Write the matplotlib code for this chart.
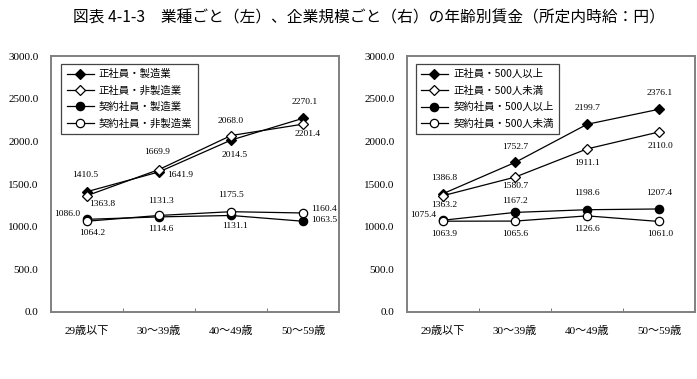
import matplotlib.pyplot as plt
import numpy as np

plt.rcParams['font.family'] = ['Liberation Serif', 'Noto Sans CJK JP']

ages = ['29歳以下', '30～39歳', '40～49歳', '50～59歳']

# 左：業種ごと
sei_mfg = [1410.5, 1641.9, 2014.5, 2270.1]
sei_nonmfg = [1363.8, 1669.9, 2068.0, 2201.4]
kei_mfg = [1086.0, 1114.6, 1131.1, 1063.5]
kei_nonmfg = [1064.2, 1131.3, 1175.5, 1160.4]
left_names = ['正社員・製造業', '正社員・非製造業', '契約社員・製造業', '契約社員・非製造業']

# 右：企業規模ごと
sei_large = [1386.8, 1752.7, 2199.7, 2376.1]
sei_small = [1363.2, 1580.7, 1911.1, 2110.0]
kei_large = [1075.4, 1167.2, 1198.6, 1207.4]
kei_small = [1063.9, 1065.6, 1126.6, 1061.0]
right_names = ['正社員・500人以上', '正社員・500人未満', '契約社員・500人以上', '契約社員・500人未満']

styles = [dict(marker='D', mfc='black', ms=5),
          dict(marker='D', mfc='white', ms=5),
          dict(marker='o', mfc='black', ms=6),
          dict(marker='o', mfc='white', ms=6)]

# label offsets in pixels (dx, dy)
left_off = [[(-2, 17), (21, -3), (4, -15), (2, 16)],
            [(15, -8), (-2, 18), (0, 15), (5, -10)],
            [(-20, 5), (2, -12), (4, -11), (21, 1)],
            [(5, -12), (2, 14), (0, 17), (21, 4)]]
right_off = [[(1, 16), (0, 15), (0, 16), (1, 16)],
             [(1, -9), (0, -9), (0, -14), (1, -14)],
             [(-20, 5), (0, 11), (0, 17), (0, 16)],
             [(1, -13), (0, -13), (0, -13), (1, -13)]]

fig = plt.figure(figsize=(6.97, 3.79), dpi=100)
fig.text(0.53, 0.952, '図表 4-1-3　業種ごと（左）、企業規模ごと（右）の年齢別賃金（所定内時給：円）',
         ha='center', va='center', fontsize=11.3, family=['Noto Sans CJK JP'])


def draw(ax, series, names, offs, lx, ly):
    x = np.arange(len(ages))
    for s, name, st, off in zip(series, names, styles, offs):
        ax.plot(x, s, color='black', lw=0.9, mec='black', mew=0.9, label=name, **st)
        for xi, v, (dx, dy) in zip(x, s, off):
            ax.annotate(f'{v:.1f}', (xi, v), xytext=(dx, dy), textcoords='offset pixels',
                        ha='center', va='center', fontsize=6.8)
    ax.set_xlim(-0.5, 3.5)
    ax.set_ylim(0, 3000)
    ax.set_yticks(np.arange(0, 3001, 500))
    ax.set_yticklabels([f'{v:.1f}' for v in np.arange(0, 3001, 500)], fontsize=8)
    ax.set_xticks(x)
    ax.set_xticklabels(ages, fontsize=8)
    ax.set_xticks([0.5, 1.5, 2.5], minor=True)
    ax.tick_params(axis='x', which='major', length=0, pad=10)
    ax.tick_params(axis='x', which='minor', direction='in', length=3, color='#666666')
    ax.tick_params(axis='y', length=0, pad=9)
    for sp in ax.spines.values():
        sp.set_color('#808080')
        sp.set_linewidth(1.4)
    leg = ax.legend(loc='upper left', bbox_to_anchor=(lx, ly),
                    prop={'family': ['Noto Sans CJK JP'], 'size': 7.5},
                    fancybox=False, edgecolor='#444444', framealpha=1,
                    handlelength=2.6, labelspacing=0.6, borderpad=0.5, handletextpad=0.5)
    leg.get_frame().set_linewidth(0.9)


ax1 = fig.add_axes([0.0732, 0.1768, 0.4132, 0.6754])
draw(ax1, [sei_mfg, sei_nonmfg, kei_mfg, kei_nonmfg], left_names, left_off, 0.018, 0.99)
ax2 = fig.add_axes([0.584, 0.1768, 0.4132, 0.6754])
draw(ax2, [sei_large, sei_small, kei_large, kei_small], right_names, right_off, 0.012, 0.99)

fig.savefig('out.png', dpi=100)
